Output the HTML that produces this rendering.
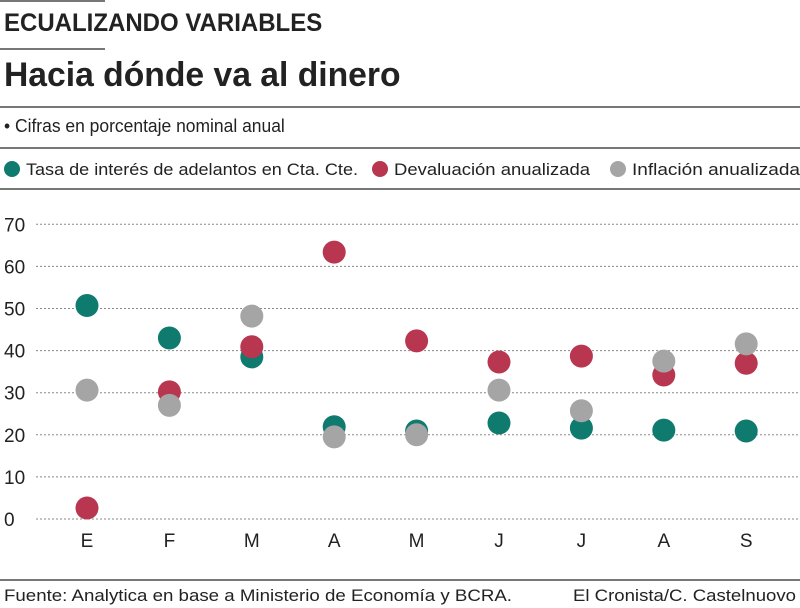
<!DOCTYPE html>
<html><head><meta charset="utf-8"><style>
body{margin:0;width:800px;height:608px;background:#fff;overflow:hidden;font-family:"Liberation Sans",sans-serif;color:#222;position:relative}
.t{position:absolute;white-space:nowrap;transform-origin:0 0}
.ln{position:absolute;background:#777;height:2px}
</style></head><body>
<div class="ln" style="left:0;top:0;width:105px"></div>
<div class="t" style="left:4px;top:9px;font-size:25px;font-weight:bold;transform:scaleX(0.96)">ECUALIZANDO VARIABLES</div>
<div class="ln" style="left:0;top:48px;width:105px"></div>
<div class="t" style="left:4px;top:56px;font-size:34px;font-weight:bold;transform:scaleX(0.99)">Hacia dónde va al dinero</div>
<div class="ln" style="left:0;top:106px;width:800px"></div>
<div class="t" style="left:4px;top:116px;font-size:18px;transform:scaleX(0.97)">• Cifras en porcentaje nominal anual</div>
<div class="ln" style="left:0;top:147px;width:800px"></div>
<div class="ln" style="left:0;top:188px;width:800px"></div>
<svg width="800" height="608" style="position:absolute;left:0;top:0">
<g id="legend"></g><g id="grid"></g><g id="dots"></g>
<line x1="0" y1="580" x2="800" y2="580" stroke="#777" stroke-width="2"/>
<text x="4" y="601" font-size="17" fill="#222" textLength="508" lengthAdjust="spacingAndGlyphs">Fuente: Analytica en base a Ministerio de Economía y BCRA.</text>
<text x="573" y="601" font-size="17" fill="#222" textLength="223" lengthAdjust="spacingAndGlyphs">El Cronista/C. Castelnuovo</text>
</svg>
<script>
const categories=["E","F","M","A","M","J","J","A","S"];
const tasa=[50.7,43,38.5,21.9,20.9,22.8,21.6,21.1,20.9];
const devaluacion=[2.6,30.2,40.9,63.4,42.3,37.3,38.7,34.2,37];
const inflacion=[30.6,27,48.2,19.5,20,30.6,25.7,37.5,41.6];
const yTicks=[0,10,20,30,40,50,60,70];
const seriesNames=["Tasa de interés de adelantos en Cta. Cte.","Devaluación anualizada","Inflación anualizada"];
const colors=["#0f7a6e","#b8364f","#a5a5a5"];
const NS="http://www.w3.org/2000/svg";
const y=v=>519-v*4.21;
const x=i=>87+i*82.4;
function mk(tag,attrs,parent){const e=document.createElementNS(NS,tag);for(const k in attrs)e.setAttribute(k,attrs[k]);parent.appendChild(e);return e;}
const grid=document.getElementById('grid'),dots=document.getElementById('dots'),leg=document.getElementById('legend');
yTicks.forEach(t=>{
 const l=mk('line',{x1:36,x2:800,y1:y(t),y2:y(t),stroke:'#888','stroke-width':1,'stroke-dasharray':'2,2'},grid);
 
 
 const tx=mk('text',{x:4,y:y(t)+7,'font-size':19,fill:'#222'},grid);
 tx.textContent=t;
 
 
});
categories.forEach((c,i)=>{
 const tx=mk('text',{x:x(i),y:547,'font-size':19,fill:'#222','text-anchor':'middle'},grid);
 tx.textContent=c;
 
 
});
[tasa,devaluacion,inflacion].forEach((s,si)=>{
 s.forEach((v,i)=>{
  const d=mk('circle',{cx:x(i),cy:y(v),r:11.5,fill:colors[si]},dots);
  
  
 });
});
const lx=[12,380,618],tl=[332,196,168];
seriesNames.forEach((n,i)=>{
 const c=mk('circle',{cx:lx[i],cy:169,r:8,fill:colors[i]},leg);
 
 
 const t=mk('text',{x:lx[i]+14,y:175,'font-size':17,fill:'#222',textLength:tl[i],lengthAdjust:'spacingAndGlyphs'},leg);
 t.textContent=n;
 
 
});
</script>
</body></html>
